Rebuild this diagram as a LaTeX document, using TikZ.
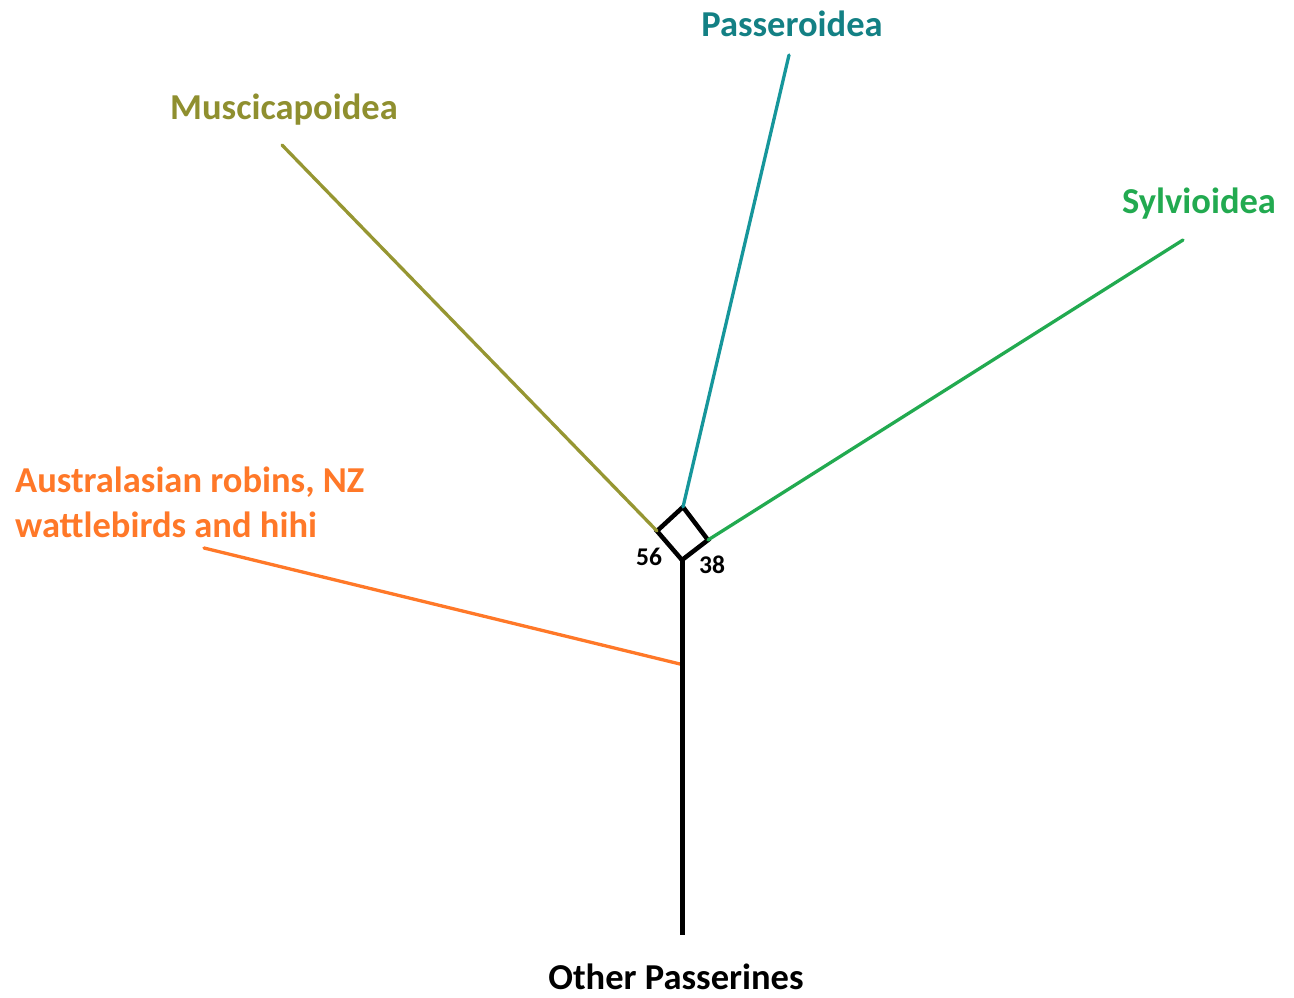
\documentclass[tikz,border=0pt]{standalone}
\usepackage{fontspec}
\setmainfont{Carlito}
\usepackage{tikz}
\usetikzlibrary{calc}
\definecolor{olivebr}{RGB}{150, 150, 50}
\definecolor{tealbr}{RGB}{22, 150, 155}
\definecolor{greenbr}{RGB}{34, 170, 80}
\definecolor{orangebr}{RGB}{255, 120, 40}
\begin{document}
\begin{tikzpicture}[x=1pt, y=-1pt,
    clade/.style={font=\fontsize{36.5}{45}\selectfont\bfseries, inner sep=0pt},
    support/.style={font=\fontsize{25.5}{30}\selectfont\bfseries, inner sep=0pt},
    branch/.style={line width=3.3pt, line cap=round}]
    \useasboundingbox (0,0) rectangle (1294,998);

    % Node of the tree (diamond)
    \coordinate (top) at (683,507);
    \coordinate (left) at (657,531);
    \coordinate (bot) at (682,560);
    \coordinate (right) at (708,540);
    \draw[line width=4.5pt, line join=miter] (top) -- (right) -- (bot) -- (left) -- cycle;

    % Free ends of the branches
    \coordinate (muscEnd) at (282,145);
    \coordinate (passEnd) at (789,55);
    \coordinate (sylvEnd) at (1183,240);
    \coordinate (austEnd) at (204,548);
    \coordinate (austJoin) at (680,664);
    \coordinate (root) at (682,935);

    % Branches
    \draw[branch, olivebr] (left) -- (muscEnd);
    \draw[branch, tealbr] (top) -- (passEnd);
    \draw[branch, greenbr] (right) -- (sylvEnd);
    \draw[branch, orangebr] (austJoin) -- (austEnd);
    \draw[line width=5pt] (bot) -- (root);

    % Labels
    \node[clade, color=olivebr!95!black] (musc) at (284,110) {Muscicapoidea};
    \node[clade, color=tealbr!85!black] (pass) at (792,24) {Passeroidea};
    \node[clade, color=greenbr] (sylv) at (1199,204) {Sylvioidea};
    \node[clade, color=orangebr, anchor=west, align=left] (aust) at (15,502)
        {Australasian robins, NZ\\wattlebirds and hihi};
    \node[clade] (other) at (676,977) {Other Passerines};
    \node[support] (s56) at (649,557) {56};
    \node[support] (s38) at (712,565) {38};
\end{tikzpicture}
\end{document}
